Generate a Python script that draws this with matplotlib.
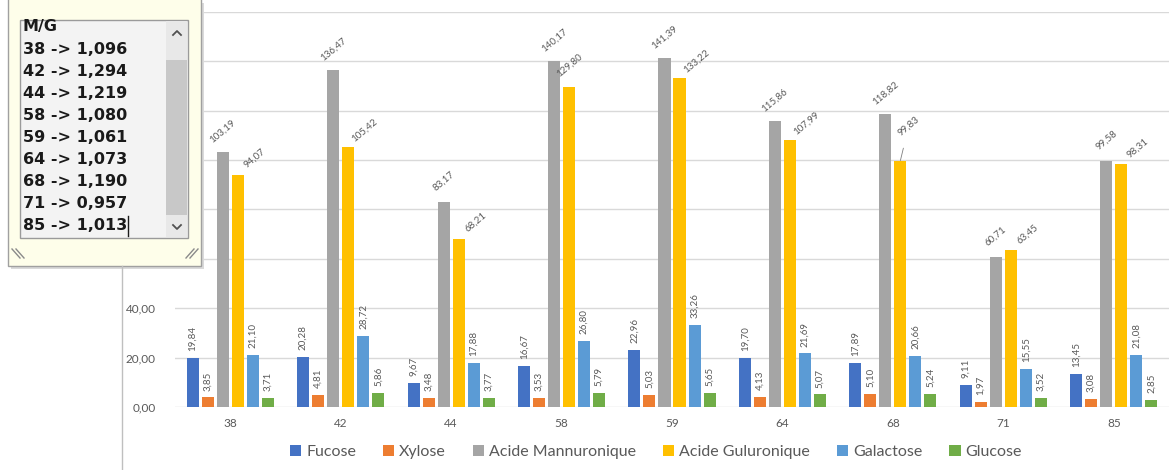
import numpy as np
import matplotlib
matplotlib.use("Agg")
import matplotlib.pyplot as plt
from matplotlib.patches import Rectangle

# Échantillons et teneurs en monosaccharides
categories = ["38", "42", "44", "58", "59", "64", "68", "71", "85"]
fucose = [19.84, 20.28, 9.67, 16.67, 22.96, 19.70, 17.89, 9.11, 13.45]
xylose = [3.85, 4.81, 3.48, 3.53, 5.03, 4.13, 5.10, 1.97, 3.08]
mannuronique = [103.19, 136.47, 83.17, 140.17, 141.39, 115.86, 118.82, 60.71, 99.58]
guluronique = [94.07, 105.42, 68.21, 129.80, 133.22, 107.99, 99.83, 63.45, 98.31]
galactose = [21.10, 28.72, 17.88, 26.80, 33.26, 21.69, 20.66, 15.55, 21.08]
glucose = [3.71, 5.86, 3.77, 5.79, 5.65, 5.07, 5.24, 3.52, 2.85]

series_names = ["Fucose", "Xylose", "Acide Mannuronique", "Acide Guluronique",
                "Galactose", "Glucose"]
colors = ["#4472C4", "#ED7D31", "#A5A5A5", "#FFC000", "#5B9BD5", "#70AD47"]

# Rapport M/G affiché dans la zone de texte
mg_lines = ["M/G", "38 -> 1,096", "42 -> 1,294", "44 -> 1,219", "58 -> 1,080",
            "59 -> 1,061", "64 -> 1,073", "68 -> 1,190", "71 -> 0,957", "85 -> 1,013"]

TXT = "#595959"
plt.rcParams["font.family"] = ["Lato", "DejaVu Sans"]

W, H = 1174, 470
fig = plt.figure(figsize=(W / 100, H / 100), dpi=100)
ax = fig.add_axes([175 / W, 63 / H, 994 / W, 395 / H])

x = np.arange(len(categories))
step, width = 0.136, 0.109
all_series = [fucose, xylose, mannuronique, guluronique, galactose, glucose]

for k, (vals, name, col) in enumerate(zip(all_series, series_names, colors)):
    pos = x + (k - 2.5) * step
    ax.bar(pos, vals, width=width, color=col, label=name, zorder=3)
    for i, (px, v) in enumerate(zip(pos, vals)):
        label = f"{v:.2f}".replace(".", ",")
        if k == 2:
            ax.annotate(label, (px, v), xytext=(0, 15), textcoords="offset points",
                        ha="center", va="center", rotation=40, fontsize=7, color=TXT)
        elif k == 3:
            if categories[i] == "68":
                ax.annotate(label, (px, v), xytext=(6, 25), textcoords="offset points",
                            ha="center", va="center", rotation=40, fontsize=7, color=TXT,
                            arrowprops=dict(arrowstyle="-", color="#7f7f7f", lw=0.6,
                                            shrinkA=6, shrinkB=0))
            elif categories[i] == "58":
                ax.annotate(label, (px, v), xytext=(0, 15), textcoords="offset points",
                            ha="center", va="center", rotation=40, fontsize=7, color=TXT)
            else:
                ax.annotate(label, (px, v), xytext=(12, 12), textcoords="offset points",
                            ha="center", va="center", rotation=40, fontsize=7, color=TXT)
        else:
            ax.annotate(label, (px, v), xytext=(0, 5), textcoords="offset points",
                        ha="center", va="bottom", rotation=90, fontsize=7, color=TXT)

ax.set_xlim(-0.5, len(categories) - 0.5)
ax.set_ylim(0, 160)
yt = np.arange(0, 161, 20)
ax.set_yticks(yt)
# au-dessus de 40 les graduations sont masquées par la zone de texte
ax.set_yticklabels([f"{t:.2f}".replace(".", ",") if t <= 40 else "" for t in yt])
ax.set_xticks(x)
ax.set_xticklabels(categories)
ax.tick_params(length=0, labelsize=8.5, labelcolor=TXT)
ax.tick_params(axis="y", pad=14)
ax.tick_params(axis="x", pad=8)
ax.grid(axis="y", color="#D9D9D9", lw=1, zorder=0)
for s in ax.spines.values():
    s.set_visible(False)

fig.legend(loc="center", bbox_to_anchor=(656 / W, 18 / H), ncol=6, frameon=False,
           fontsize=11.5, handlelength=0.7, handleheight=0.7, handletextpad=0.3,
           columnspacing=1.7, labelcolor=TXT)

# Zone de texte flottante (calque en pixels)
ov = fig.add_axes([0, 0, 1, 1], zorder=10)
ov.set_xlim(0, W)
ov.set_ylim(H, 0)
ov.axis("off")
ov.patch.set_alpha(0)

ov.plot([122, 122], [266, H], color="#BFBFBF", lw=1)
ov.add_patch(Rectangle((11, 3), 193, 266, facecolor="#DADADA", edgecolor="none"))
ov.add_patch(Rectangle((8, -2), 193, 268, facecolor="#FEFEEA", edgecolor="#A0A0A0", lw=1))
ov.add_patch(Rectangle((20, 20), 168, 218, facecolor="#F3F3F3", edgecolor="#9A9A9A", lw=1))
ov.add_patch(Rectangle((166, 21), 21, 216, facecolor="#E8E8E8", edgecolor="none"))
ov.add_patch(Rectangle((166, 60), 21, 155, facecolor="#C8C8C8", edgecolor="none"))
ov.plot([173, 177, 181], [35, 31, 35], color="#505050", lw=1.3)
ov.plot([173, 177, 181], [225, 229, 225], color="#505050", lw=1.3)
for d in (0, 4):
    ov.plot([12 + d, 20 + d], [249, 258], color="#8A8A8A", lw=1)
    ov.plot([186 + d, 194 + d], [258, 249], color="#8A8A8A", lw=1)

for i, line in enumerate(mg_lines):
    ov.text(23, 27 + 22.1 * i, line, ha="left", va="center", fontsize=11.5,
            fontweight="bold", family="DejaVu Sans", color="#1A1A1A")
ov.plot([128, 128], [216, 236], color="#1A1A1A", lw=1)

fig.savefig("out.png", dpi=100)
